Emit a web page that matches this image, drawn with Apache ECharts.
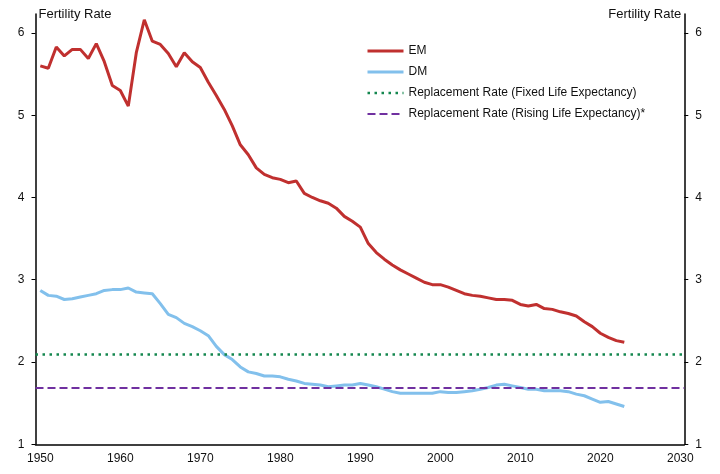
<!DOCTYPE html>
<html>
<head>
<meta charset="utf-8">
<script src="https://cdn.jsdelivr.net/npm/echarts@6/dist/echarts.min.js"></script>
<style>
  html, body { margin: 0; padding: 0; background: #fff; }
  #chart { width: 720px; height: 474px; }
</style>
</head>
<body>
<div id="chart"></div>
<script>
// fertility rates, one value per year 1950..2023
var years = [];
for (var y = 1950; y <= 2023; y++) years.push(y);

var emRate = [
  5.60, 5.57, 5.83, 5.72, 5.80, 5.80, 5.69, 5.87, 5.65, 5.36,
  5.30, 5.11, 5.76, 6.16, 5.90, 5.86, 5.75, 5.59, 5.76, 5.65,
  5.58, 5.40, 5.24, 5.07, 4.87, 4.64, 4.52, 4.36, 4.28, 4.24,
  4.22, 4.18, 4.20, 4.05, 4.00, 3.96, 3.93, 3.87, 3.77, 3.71,
  3.64, 3.44, 3.33, 3.25, 3.18, 3.12, 3.07, 3.02, 2.97, 2.94,
  2.94, 2.91, 2.87, 2.83, 2.81, 2.80, 2.78, 2.76, 2.76, 2.75,
  2.70, 2.68, 2.70, 2.65, 2.64, 2.61, 2.59, 2.56, 2.49, 2.43,
  2.35, 2.30, 2.26, 2.24
];

var dmRate = [
  2.87, 2.81, 2.80, 2.76, 2.77, 2.79, 2.81, 2.83, 2.87, 2.88,
  2.88, 2.90, 2.85, 2.84, 2.83, 2.71, 2.58, 2.54, 2.47, 2.43,
  2.38, 2.32, 2.19, 2.09, 2.03, 1.94, 1.88, 1.86, 1.83, 1.83,
  1.82, 1.79, 1.77, 1.74, 1.73, 1.72, 1.70, 1.71, 1.72, 1.72,
  1.74, 1.72, 1.70, 1.67, 1.64, 1.62, 1.62, 1.62, 1.62, 1.62,
  1.64, 1.63, 1.63, 1.64, 1.65, 1.67, 1.69, 1.72, 1.73, 1.71,
  1.69, 1.67, 1.67, 1.65, 1.65, 1.65, 1.64, 1.61, 1.59, 1.55,
  1.51, 1.52, 1.49, 1.46
];

var replFixed = 2.1;
var replRising = 1.69;

var xTicks = [1950, 1960, 1970, 1980, 1990, 2000, 2010, 2020, 2030];
var yTicks = [1, 2, 3, 4, 5, 6];

function pairs(vals) {
  return vals.map(function (v, i) { return [years[i], v]; });
}

var chart = echarts.init(document.getElementById("chart"));
var font = "Liberation Sans, Arial, sans-serif";
var txt = "#111";

var yAxisBase = {
  type: "value",
  min: 1,
  max: 6.23,
  name: "Fertility Rate",
  nameLocation: "end",
  nameGap: 0,
  axisLine: { show: true, lineStyle: { color: "#000", width: 1.5 } },
  axisTick: { show: true, length: 4, customValues: yTicks, lineStyle: { color: "#000" } },
  splitLine: { show: false },
  axisLabel: { customValues: yTicks, color: txt, fontFamily: font, fontSize: 12, margin: 11 }
};

chart.setOption({
  animation: false,
  grid: { left: 35.5, right: 35.7, top: 14, bottom: 29.7, containLabel: false },
  legend: {
    orient: "vertical",
    left: 361,
    top: 40,
    itemWidth: 36,
    itemHeight: 14,
    itemGap: 9,
    itemStyle: { opacity: 0 },
    lineStyle: { width: "inherit" },
    textStyle: { color: txt, fontFamily: font, fontSize: 12 },
    data: ["EM", "DM", "Replacement Rate (Fixed Life Expectancy)", "Replacement Rate (Rising Life Expectancy)*"]
  },
  xAxis: {
    type: "value",
    min: 1949.4,
    max: 2030.5,
    axisLine: { show: true, onZero: false, lineStyle: { color: "#000", width: 1.5 } },
    axisTick: { show: false },
    splitLine: { show: false },
    axisLabel: {
      customValues: xTicks,
      formatter: function (v) { return String(v); },
      color: txt, fontFamily: font, fontSize: 12, margin: 8
    }
  },
  yAxis: [
    Object.assign({}, yAxisBase, {
      position: "left",
      nameTextStyle: { color: txt, fontFamily: font, fontSize: 13, align: "left", verticalAlign: "middle", padding: [0, 0, 0, 3] }
    }),
    Object.assign({}, yAxisBase, {
      position: "right",
      nameTextStyle: { color: txt, fontFamily: font, fontSize: 13, align: "right", verticalAlign: "middle", padding: [0, 3, 0, 0] }
    })
  ],
  series: [
    {
      name: "EM", type: "line", data: pairs(emRate),
      symbol: "none", silent: true,
      lineStyle: { color: "#C0302F", width: 3 }, itemStyle: { color: "#C0302F" }
    },
    {
      name: "DM", type: "line", data: pairs(dmRate),
      symbol: "none", silent: true,
      lineStyle: { color: "#82C0EC", width: 3 }, itemStyle: { color: "#82C0EC" }
    },
    {
      name: "Replacement Rate (Fixed Life Expectancy)", type: "line", data: [],
      symbol: "none", silent: true,
      lineStyle: { color: "#14874F", width: 2.5, type: [2.5, 4.5] }, itemStyle: { color: "#14874F" },
      markLine: {
        silent: true, symbol: "none", label: { show: false },
        lineStyle: { color: "#14874F", width: 2.5, type: [2.5, 4.5] },
        data: [{ yAxis: replFixed }]
      }
    },
    {
      name: "Replacement Rate (Rising Life Expectancy)*", type: "line", data: [],
      symbol: "none", silent: true,
      lineStyle: { color: "#7030A0", width: 2, type: [8, 4] }, itemStyle: { color: "#7030A0" },
      markLine: {
        silent: true, symbol: "none", label: { show: false },
        lineStyle: { color: "#7030A0", width: 2, type: [8, 4] },
        data: [{ yAxis: replRising }]
      }
    }
  ]
});
</script>
</body>
</html>
